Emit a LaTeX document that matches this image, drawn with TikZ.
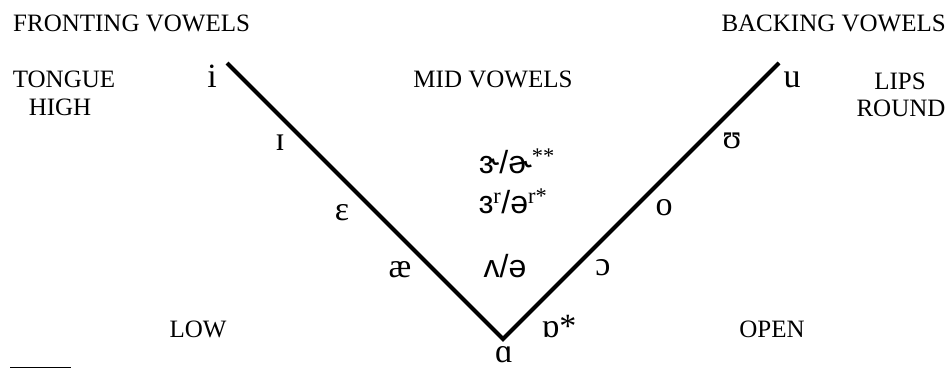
\documentclass[tikz,border=0pt]{standalone}
\usepackage{fontspec}
\setmainfont{Liberation Serif}
\newfontfamily\ipaserif{Liberation Serif}
\newfontfamily\ipasans{Liberation Sans}
\tikzset{
  lbl/.style={inner sep=0pt, font=\fontsize{25}{29}\selectfont},
  vow/.style={inner sep=0pt, font=\ipaserif\fontsize{34}{38}\selectfont},
  midv/.style={inner sep=0pt, font=\ipasans\fontsize{32}{36}\selectfont},
  vline/.style={line width=4pt, line join=miter, black},
}
\begin{document}
\begin{tikzpicture}[x=1pt,y=1pt]
\useasboundingbox (0,0) rectangle (951,-369);
% category labels
\node[lbl, anchor=base west] (fv) at (13,-32) {FRONTING VOWELS};
\node[lbl, anchor=base east] (bv) at (946,-32) {BACKING VOWELS};
\node[lbl, anchor=base] (tongue) at (64,-88) {TONGUE};
\node[lbl, anchor=base] (high) at (60,-115) {HIGH};
\node[lbl, anchor=base] (lips) at (900,-90) {LIPS};
\node[lbl, anchor=base] (round) at (901,-117) {ROUND};
\node[lbl, anchor=base] (mid) at (493,-88) {MID VOWELS};
\node[lbl, anchor=base] (low) at (198,-337) {LOW};
\node[lbl, anchor=base] (open) at (772,-337) {OPEN};
% V shape
\coordinate (tl) at (227,-63);
\coordinate (bot) at (503,-339);
\coordinate (tr) at (779,-63);
\draw[vline] (tl) -- (bot) -- (tr);
% vowels
\node[vow, anchor=base] (vi) at (212,-88) {i};
\node[vow, anchor=base] (vu) at (792,-88) {u};
\node[vow, anchor=base] (vI) at (280,-150) {ɪ};
\node[vow, anchor=base] (vU) at (732,-148) {ʊ};
\node[vow, anchor=base] (vE) at (342,-220) {ɛ};
\node[vow, anchor=base] (vo) at (664,-215) {o};
\node[vow, anchor=base] (vae) at (400,-277) {æ};
\node[vow, anchor=base] (vO) at (603,-275) {ɔ};
\node[vow, anchor=base] (vQ) at (559,-337) {ɒ*};
\node[vow, anchor=base] (va) at (504,-362.5) {ɑ};
\node[midv, anchor=base] (vV) at (505,-277) {ʌ/ə};
\node[midv, anchor=base] (vr1) at (517,-173) {ɝ/ɚ\textsuperscript{\rmfamily **}};
\node[midv, anchor=base] (vr2) at (513,-213) {ɜ\textsuperscript{\rmfamily r}/ə\textsuperscript{\rmfamily r*}};
% footnote rule
\coordinate (fr1) at (10,-367.5);
\coordinate (fr2) at (71,-367.5);
\draw[line width=1.3pt] (fr1) -- (fr2);
\end{tikzpicture}
\end{document}
